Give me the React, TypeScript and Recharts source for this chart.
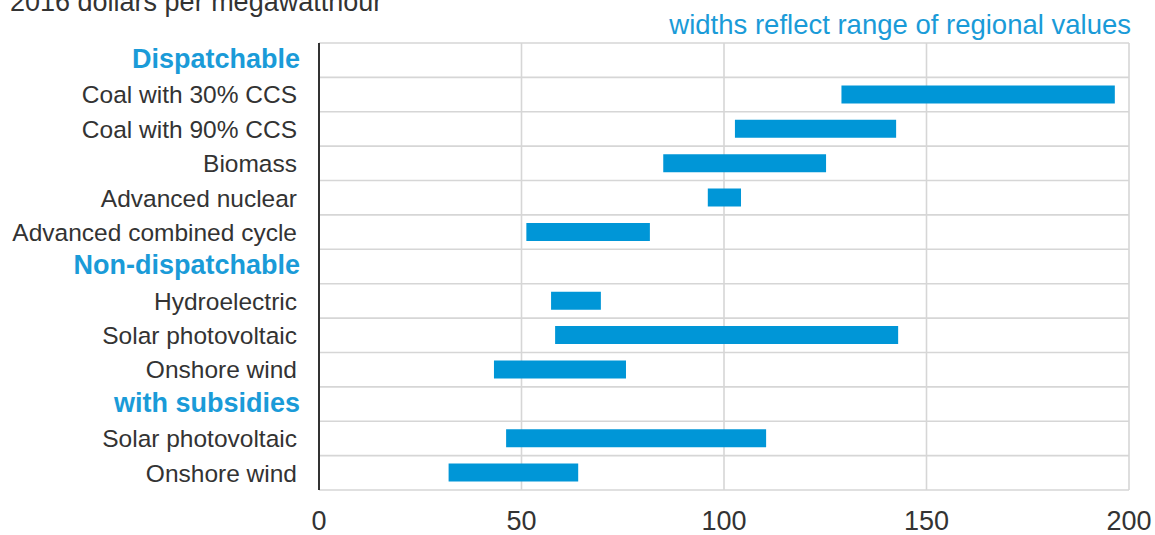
import React from "react"
import { BarChart, Bar, XAxis, YAxis, CartesianGrid } from "recharts"

// rows top to bottom; header rows have no bar
const categories = [
  "Dispatchable",
  "Coal with 30% CCS",
  "Coal with 90% CCS",
  "Biomass",
  "Advanced nuclear",
  "Advanced combined cycle",
  "Non-dispatchable",
  "Hydroelectric",
  "Solar photovoltaic",
  "Onshore wind",
  "with subsidies",
  "Solar photovoltaic",
  "Onshore wind",
]
const headerRows = ["Dispatchable", "Non-dispatchable", "with subsidies"]
const lowValues = [null, 129, 102.7, 85, 96, 51.2, null, 57.3, 58.3, 43.2, null, 46.2, 32]
const highValues = [null, 196.5, 142.5, 125.2, 104.2, 81.7, null, 69.6, 143, 75.8, null, 110.4, 64]
const xTicks = [0, 50, 100, 150, 200]

const BLUE = "#0096d7"
const HEADER = "#1a9bd8"
const TEXT = "#333333"
const FONT = "'Liberation Sans', Arial, sans-serif"

const data = categories.map((label, i) => ({
  id: `r${i}`,
  label,
  header: headerRows.includes(label),
  range: lowValues[i] == null ? null : [lowValues[i], highValues[i]],
}))

const CategoryTick = (props: any) => {
  const { x, y, payload } = props
  const row = data[payload.index]
  return (
    <text
      x={row.header ? x + 3 : x}
      y={row.header ? y - 2 : y}
      dy="0.36em"
      textAnchor="end"
      fontFamily={FONT}
      fontSize={row.header ? 27 : 24.5}
      fontWeight={row.header ? "bold" : "normal"}
      fill={row.header ? HEADER : TEXT}
    >
      {row.label}
    </text>
  )
}

export default function App() {
  const rowLines = ({ offset }: any) =>
    categories.map((_, i) => offset.top + (i * offset.height) / categories.length).concat(offset.top + offset.height)

  return (
    <div style={{ position: "absolute", left: 0, top: 0, width: 1155, height: 535, background: "#fff" }}>
      <BarChart
        width={1155}
        height={535}
        data={data}
        layout="vertical"
        margin={{ top: 43, right: 26, left: 0, bottom: 0 }}
        barCategoryGap={0}
      >
        <CartesianGrid stroke="#d6d6d6" strokeWidth={1.6} horizontalCoordinatesGenerator={rowLines} />
        <XAxis
          type="number"
          domain={[0, 200]}
          ticks={xTicks}
          height={45}
          axisLine={false}
          tickLine={false}
          tickSize={0}
          tickMargin={21}
          tick={{ fill: TEXT, fontSize: 27, fontFamily: FONT }}
        />
        <YAxis
          type="category"
          dataKey="id"
          width={319}
          axisLine={{ stroke: TEXT, strokeWidth: 2 }}
          tickLine={false}
          tickSize={0}
          tickMargin={22}
          interval={0}
          tick={<CategoryTick />}
        />
        <Bar dataKey="range" fill={BLUE} barSize={18} isAnimationActive={false} />
      </BarChart>
      <svg width={1155} height={535} style={{ position: "absolute", left: 0, top: 0, pointerEvents: "none" }}>
        <text x={10} y={11} fontFamily={FONT} fontSize={27} fill={TEXT}>
          2016 dollars per megawatthour
        </text>
        <text x={1131} y={34} textAnchor="end" fontFamily={FONT} fontSize={27.5} fill={HEADER}>
          widths reflect range of regional values
        </text>
      </svg>
    </div>
  )
}
